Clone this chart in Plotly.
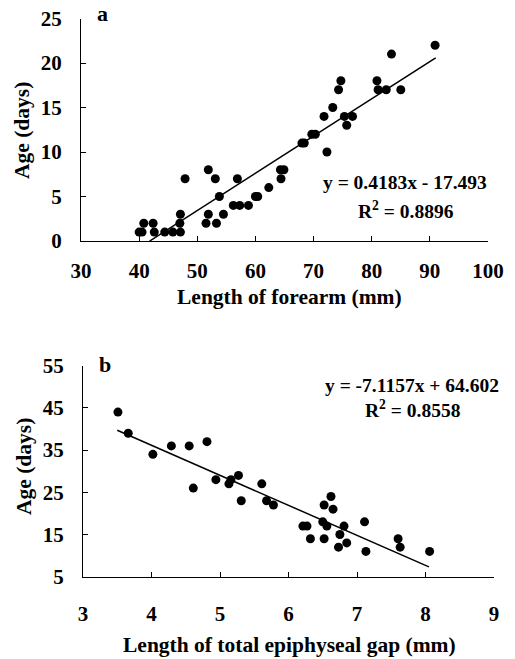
import plotly.graph_objects as go

# Panel a: forearm length vs age
forearm_mm = [40.0, 40.5, 40.8, 42.4, 42.6, 44.4, 45.8, 47.1, 47.0, 47.1, 47.9,
              51.5, 51.9, 51.9, 53.1, 53.3, 53.8, 54.5, 56.2, 56.9, 57.3, 58.8,
              60.0, 60.4, 62.3, 64.3, 64.4, 64.9, 68.0, 68.4, 69.7, 70.3, 71.8,
              72.3, 73.3, 74.3, 74.7, 75.3, 75.7, 76.7, 80.9, 81.1, 82.5, 83.4,
              85.0, 90.9]
age_a = [1, 1, 2, 2, 1, 1, 1, 1, 2, 3, 7,
         2, 8, 3, 7, 2, 5, 3, 4, 7, 4, 4,
         5, 5, 6, 8, 7, 8, 11, 11, 12, 12, 14,
         10, 15, 17, 18, 14, 13, 14, 18, 17, 17, 21,
         17, 22]
fit_a = [0.4183, -17.493]   # slope, intercept
fit_a_x = [41.8, 91.0]
eq_a = ["y = 0.4183x - 17.493", "R<sup>2</sup> = 0.8896"]

# Panel b: epiphyseal gap vs age
gap_mm = [3.51, 3.66, 4.02, 4.29, 4.55, 4.81, 4.61, 4.94, 5.13, 5.16, 5.27,
          5.31, 5.61, 5.68, 5.78, 6.21, 6.27, 6.32, 6.50, 6.52, 6.52, 6.56,
          6.62, 6.65, 6.73, 6.75, 6.81, 6.85, 7.11, 7.13, 7.60, 7.63, 8.06]
age_b = [44, 39, 34, 36, 36, 37, 26, 28, 27, 28, 29,
         23, 27, 23, 22, 17, 17, 14, 18, 22, 14, 17,
         24, 21, 12, 15, 17, 13, 18, 11, 14, 12, 11]
fit_b = [-7.1157, 64.602]
fit_b_x = [3.5, 8.05]
eq_b = ["y = -7.1157x + 64.602", "R<sup>2</sup> = 0.8558"]

FONT = "Liberation Serif"
W, H = 515, 659

fig = go.Figure()
mk = dict(color="black", size=9)
fig.add_trace(go.Scatter(x=forearm_mm, y=age_a, mode="markers", marker=mk,
                         xaxis="x", yaxis="y", showlegend=False))
fig.add_trace(go.Scatter(x=fit_a_x, y=[fit_a[0] * v + fit_a[1] for v in fit_a_x],
                         mode="lines", line=dict(color="black", width=1.5),
                         xaxis="x", yaxis="y", showlegend=False))
fig.add_trace(go.Scatter(x=gap_mm, y=age_b, mode="markers", marker=mk,
                         xaxis="x2", yaxis="y2", showlegend=False))
fig.add_trace(go.Scatter(x=fit_b_x, y=[fit_b[0] * v + fit_b[1] for v in fit_b_x],
                         mode="lines", line=dict(color="black", width=1.5),
                         xaxis="x2", yaxis="y2", showlegend=False))

tickf = dict(family=FONT, size=21, color="black", weight="bold")
common = dict(showline=True, linecolor="black", linewidth=1, ticks="inside",
              ticklen=5, tickcolor="black", showgrid=False, zeroline=False,
              tickfont=tickf, automargin=False)

fig.update_layout(
    width=W, height=H, margin=dict(l=0, r=0, t=0, b=0, autoexpand=False),
    plot_bgcolor="white", paper_bgcolor="white",
    font=dict(family=FONT, color="black"),
    xaxis=dict(domain=[81 / W, 488 / W], anchor="y", range=[30, 100], dtick=10,
               ticklabelstandoff=11, **common),
    yaxis=dict(domain=[1 - 241 / H, 1 - 18.5 / H], anchor="x", range=[0, 25], dtick=5,
               ticklabelstandoff=14, **common),
    xaxis2=dict(domain=[83 / W, 494 / W], anchor="y2", range=[3, 9], dtick=1,
                ticklabelstandoff=18, **common),
    yaxis2=dict(domain=[1 - 576.7 / H, 1 - 365.7 / H], anchor="x2", range=[5, 55],
                tickvals=[5, 15, 25, 35, 45, 55],
                ticklabelstandoff=14, **common),
)

titlef = dict(family=FONT, size=21.5, color="black")
annf = dict(family=FONT, size=19.5, color="black")
lblf = dict(family=FONT, size=22, color="black")
anns = [
    # axis titles
    dict(x=289 / W, y=1 - 297 / H, text="<b>Length of forearm (mm)</b>", font=titlef),
    dict(x=22 / W, y=1 - 131 / H, text="<b>Age (days)</b>", font=titlef, textangle=-90),
    dict(x=289 / W, y=1 - 645 / H, text="<b>Length of total epiphyseal gap (mm)</b>", font=titlef),
    dict(x=24 / W, y=1 - 467 / H, text="<b>Age (days)</b>", font=titlef, textangle=-90),
    # panel letters
    dict(x=102 / W, y=1 - 14 / H, text="<b>a</b>", font=lblf),
    dict(x=105 / W, y=1 - 364 / H, text="<b>b</b>", font=lblf),
    # regression equations
    dict(x=405 / W, y=1 - 182 / H, text="<b>" + eq_a[0] + "</b>", font=annf),
    dict(x=406 / W, y=1 - 210 / H, text="<b>" + eq_a[1] + "</b>", font=annf),
    dict(x=412 / W, y=1 - 385 / H, text="<b>" + eq_b[0] + "</b>", font=annf),
    dict(x=413 / W, y=1 - 409 / H, text="<b>" + eq_b[1] + "</b>", font=annf),
]
for a in anns:
    a.update(xref="paper", yref="paper", showarrow=False, xanchor="center", yanchor="middle")
fig.update_layout(annotations=anns)

fig.write_html("out.html", config={"displayModeBar": False},
               post_script="document.body.style.margin='0px';document.body.style.overflow='hidden';")
